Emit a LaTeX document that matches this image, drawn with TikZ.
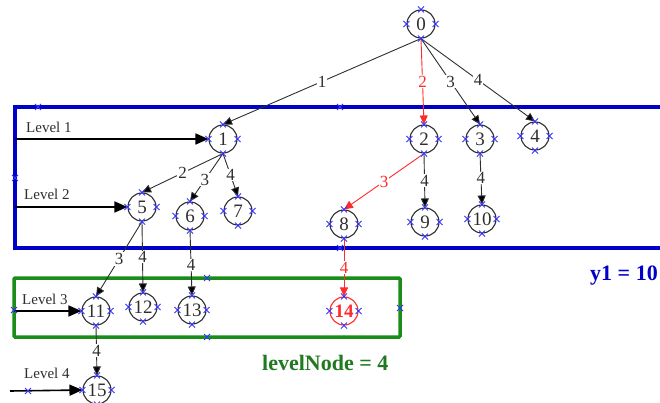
\documentclass[tikz,border=0pt]{standalone}
\usepackage{fontspec}
\setmainfont{Liberation Serif}
\usetikzlibrary{arrows.meta}
\definecolor{ink}{HTML}{2E2E2E}
\definecolor{frameblue}{HTML}{0000C8}
\definecolor{framegreen}{HTML}{1A8C1A}
\definecolor{textgreen}{HTML}{207A20}
\definecolor{cpblue}{HTML}{3333FF}
\definecolor{hotred}{HTML}{FF2A2A}

\begin{document}
\begin{tikzpicture}[x=1pt,y=-1pt,
  vtx/.style={circle, draw=ink, line width=1.1pt, minimum size=28pt, inner sep=0pt,
              font=\fontsize{19}{19}\selectfont, text=ink},
  hot/.style={draw=hotred, text=hotred},
  edge/.style={draw=ink, line width=0.9pt, -{Triangle[length=9pt,width=8pt,fill=black]}},
  hotedge/.style={edge, draw=hotred, -{Triangle[length=9pt,width=8pt,fill=hotred]}},
  elab/.style={fill=white, inner sep=0.8pt, font=\fontsize{17}{17}\selectfont, text=ink},
  hotlab/.style={elab, text=hotred},
  lvlarrow/.style={draw=black, line width=1.6pt, -{Triangle[length=13pt,width=11pt]}},
  lvltext/.style={anchor=base west, inner sep=0pt, font=\fontsize{15}{15}\selectfont, text=ink},
  cpx/.pic={\draw[cpblue, line width=0.8pt] (-3,-3) -- (3,3) (-3,3) -- (3,-3);}
]
\useasboundingbox (0,0) rectangle (660,403);

% level frames
\draw[frameblue, line width=3.5pt] (670,107) -- (15,107) -- (15,248) -- (670,248);
\draw[framegreen, line width=3.5pt, rounded corners=1pt] (14,278) rectangle (400,337);

% tree vertices
\node[vtx] (n0)  at (421,24)  {0};
\node[vtx] (n1)  at (223,139) {1};
\node[vtx] (n2)  at (424,139) {2};
\node[vtx] (n3)  at (480,139) {3};
\node[vtx] (n4)  at (535,136) {4};
\node[vtx] (n5)  at (142,207) {5};
\node[vtx] (n6)  at (190,216) {6};
\node[vtx] (n7)  at (238,211) {7};
\node[vtx] (n8)  at (344,224) {8};
\node[vtx] (n9)  at (425,222) {9};
\node[vtx] (n10) at (482,219) {10};
\node[vtx] (n11) at (96,311)  {11};
\node[vtx] (n12) at (143,307) {12};
\node[vtx] (n13) at (192,310) {13};
\node[vtx,hot] (n14) at (344,311) {\bfseries 14};
\node[vtx] (n15) at (97,390)  {15};

% weighted edges
\draw[edge] (n0.south) -- node[elab,pos=0.5] {1} (n1.north);
\draw[hotedge] (n0.south) -- node[hotlab,pos=0.5] {2} (n2.north);
\draw[edge] (n0.south) -- node[elab,pos=0.5] {3} (n3.north);
\draw[edge] (n0.south) -- node[elab,pos=0.5] {4} (n4.north);
\draw[edge] (n1.south) -- node[elab,pos=0.5] {2} (n5.north);
\draw[edge] (n1.south) -- node[elab,pos=0.55] {3} (n6.north);
\draw[edge] (n1.south) -- node[elab,pos=0.5] {4} (n7.north);
\draw[hotedge] (n2.south) -- node[hotlab,pos=0.5] {3} (n8.north);
\draw[edge] (n2.south) -- node[elab,pos=0.5] {4} (n9.north);
\draw[edge] (n3.south) -- node[elab,pos=0.48] {4} (n10.north);
\draw[edge] (n5.south) -- node[elab,pos=0.5] {3} (n11.north);
\draw[edge] (n5.south) -- node[elab,pos=0.5] {4} (n12.north);
\draw[edge] (n6.south) -- node[elab,pos=0.53] {4} (n13.north);
\draw[hotedge] (n8.south) -- node[hotlab,pos=0.5] {4} (n14.north);
\draw[edge] (n11.south) -- node[elab,pos=0.5] {4} (n15.north);

% level markers
\coordinate (l1) at (15,139);
\coordinate (l2) at (15,207);
\coordinate (l3) at (14,311);
\coordinate (l4) at (10,391);
\node[lvltext] (t1) at (26,133) {Level 1};
\node[lvltext] (t2) at (24,200) {Level 2};
\node[lvltext] (t3) at (22,304) {Level 3};
\node[lvltext] (t4) at (24,378) {Level 4};
\draw[lvlarrow] (l1) -- (n1.west);
\draw[lvlarrow] (l2) -- (n5.west);
\draw[lvlarrow] (l3) -- (n11.west);
\draw[lvlarrow] (l4) -- (n15.west);

% result captions
\node[anchor=base west, inner sep=0pt, font=\bfseries\fontsize{22}{22}\selectfont, text=frameblue] (y1) at (590,280) {y1 = 10};
\node[anchor=base west, inner sep=0pt, font=\bfseries\fontsize{22}{22}\selectfont, text=textgreen] (lvn) at (262,370) {levelNode = 4};

% connection points
\foreach \v in {n0,n1,n2,n3,n4,n5,n6,n7,n8,n9,n10,n11,n12,n13,n14,n15} {
  \pic at (\v.north) {cpx};
  \pic at (\v.south) {cpx};
  \pic at (\v.east) {cpx};
  \pic at (\v.west) {cpx};
}
\foreach \p in {(38,107),(340,107),(15,178),(340,248),(207,278),(207,337),(14,310),(400,308),(28,391)}
  \pic at \p {cpx};
\end{tikzpicture}
\end{document}
